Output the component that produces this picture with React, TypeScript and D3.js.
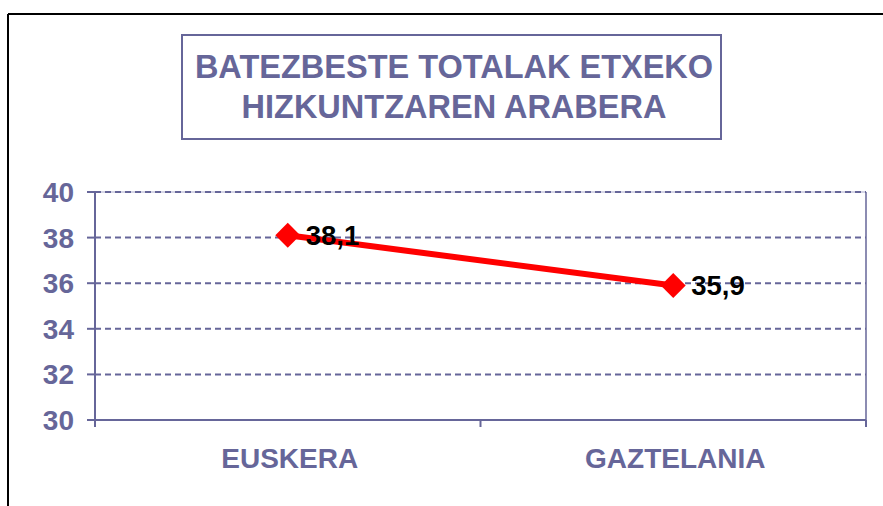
import React from "react";
import * as d3 from "d3";

const categories = ["EUSKERA", "GAZTELANIA"];
const values = [38.1, 35.9];
const valueLabels = ["38,1", "35,9"];
const yTicks = [30, 32, 34, 36, 38, 40];
const titleLines = ["BATEZBESTE TOTALAK ETXEKO", "HIZKUNTZAREN ARABERA"];

const W = 883;
const H = 506;
const PURPLE = "#666699";
const FONT = "'Liberation Sans', Arial, Helvetica, sans-serif";

export default function App() {
  const left = 95, right = 866, top = 192, bottom = 420;
  const x = d3.scaleBand<string>().domain(categories).range([left, right]);
  const y = d3.scaleLinear().domain([30, 40]).range([bottom, top]);
  const cx = (c: string) => (x(c) as number) + x.bandwidth() / 2;
  const line = d3
    .line<number>()
    .x((_, i) => cx(categories[i]))
    .y((d) => y(d));
  const marker = d3.symbol().type(d3.symbolSquare).size(310);
  const xTickPos = [left, ...categories.map((c) => (x(c) as number) + x.bandwidth())];

  return (
    <svg
      width={W}
      height={H}
      style={{ position: "absolute", left: 0, top: 0, background: "#fff" }}
      fontFamily={FONT}
    >
      {/* outer frame */}
      <line x1={8} y1={14} x2={W} y2={14} stroke="#000" strokeWidth={2} />
      <line x1={8} y1={14} x2={8} y2={H} stroke="#000" strokeWidth={2} />

      {/* title box */}
      <rect x={182} y={35} width={539} height={104} fill="#fff" stroke={PURPLE} strokeWidth={2} />
      {titleLines.map((t, i) => (
        <text
          key={t}
          x={454}
          y={78 + i * 40}
          textAnchor="middle"
          fontSize={32.5}
          fontWeight="bold"
          fill={PURPLE}
        >
          {t}
        </text>
      ))}

      {/* plot border right/top */}
      <line x1={right} y1={top} x2={right} y2={bottom} stroke={PURPLE} strokeWidth={1.5} />
      <line x1={left} y1={top} x2={right} y2={top} stroke="#aaaacc" strokeWidth={1} />

      {/* gridlines */}
      {yTicks
        .filter((t) => t !== 30)
        .map((t) => (
          <line
            key={t}
            x1={left}
            x2={right}
            y1={y(t)}
            y2={y(t)}
            stroke={PURPLE}
            strokeWidth={2}
            strokeDasharray="6,4"
          />
        ))}

      {/* y axis */}
      <line x1={left} y1={top} x2={left} y2={bottom + 6} stroke={PURPLE} strokeWidth={2} />
      {yTicks.map((t) => (
        <g key={t}>
          <line x1={left - 8} x2={left} y1={y(t)} y2={y(t)} stroke={PURPLE} strokeWidth={2} />
          <text
            x={74}
            y={y(t) + 10}
            textAnchor="end"
            fontSize={28}
            fontWeight="bold"
            fill={PURPLE}
          >
            {t}
          </text>
        </g>
      ))}

      {/* x axis */}
      <line x1={left - 8} x2={right} y1={bottom} y2={bottom} stroke={PURPLE} strokeWidth={2} />
      {xTickPos.map((p, i) => (
        <line key={i} x1={p} x2={p} y1={bottom} y2={bottom + 7} stroke={PURPLE} strokeWidth={2} />
      ))}
      {categories.map((c) => (
        <text
          key={c}
          x={cx(c) + 2}
          y={bottom + 48}
          textAnchor="middle"
          fontSize={28}
          fontWeight="bold"
          fill={PURPLE}
        >
          {c}
        </text>
      ))}

      {/* series */}
      <path d={line(values) || ""} fill="none" stroke="#ff0000" strokeWidth={6} />
      {values.map((v, i) => (
        <path
          key={i}
          d={marker() || ""}
          transform={`translate(${cx(categories[i])},${y(v)}) rotate(45)`}
          fill="#ff0000"
        />
      ))}
      {values.map((v, i) => (
        <text
          key={i}
          x={cx(categories[i]) + 18}
          y={y(v) + 10}
          fontSize={27.5}
          fontWeight="bold"
          fill="#000"
        >
          {valueLabels[i]}
        </text>
      ))}
    </svg>
  );
}
